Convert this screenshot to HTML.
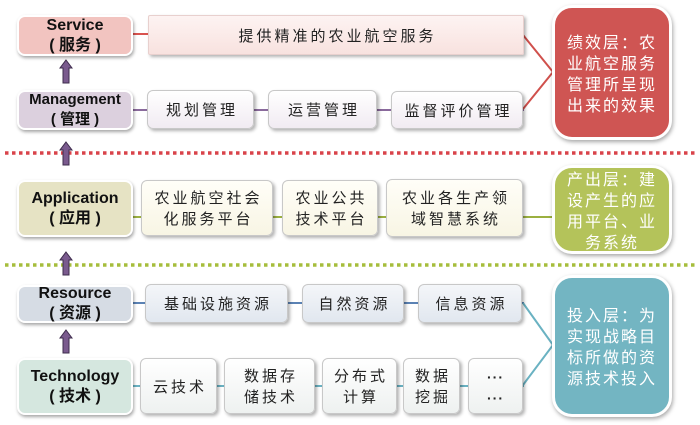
<!DOCTYPE html>
<html><head><meta charset="utf-8"><style>
html,body{margin:0;padding:0;background:#fff;}
body{width:700px;height:425px;position:relative;overflow:hidden;font-family:"Liberation Sans","Noto Sans CJK SC",sans-serif;}
.l{position:absolute;box-sizing:border-box;border:2px solid #fff;border-radius:8px;box-shadow:1px 2px 3px rgba(0,0,0,0.35);display:flex;flex-direction:column;align-items:center;justify-content:center;font-weight:bold;color:#111;font-size:16px;line-height:20px;text-align:center;}
.it{position:absolute;box-sizing:border-box;border:1px solid #c8c8c8;border-radius:6px;box-shadow:2px 2px 3px rgba(0,0,0,0.3);display:flex;align-items:center;justify-content:center;text-align:center;font-family:"Noto Sans CJK SC",sans-serif;font-size:15px;letter-spacing:3px;line-height:21px;color:#222;padding-left:3px;}
.r{position:absolute;box-sizing:border-box;border:3px solid #fff;border-radius:20px;box-shadow:1px 2px 4px rgba(0,0,0,0.35);display:flex;align-items:center;justify-content:center;color:#fff;font-family:"Noto Sans CJK SC",sans-serif;font-size:16px;letter-spacing:2px;line-height:21px;text-align:center;}
</style></head><body>
<svg width="700" height="425" style="position:absolute;left:0;top:0" xmlns="http://www.w3.org/2000/svg">
<line x1="133" y1="34" x2="148" y2="34" stroke="#d9534f" stroke-width="2"/>
<line x1="133" y1="110" x2="524" y2="110" stroke="#8a6a9c" stroke-width="2"/>
<line x1="133" y1="217" x2="524" y2="217" stroke="#9bb040" stroke-width="2"/>
<line x1="133" y1="303" x2="524" y2="303" stroke="#5b82b4" stroke-width="2"/>
<line x1="133" y1="386" x2="524" y2="386" stroke="#6ab2c2" stroke-width="2"/>
<polyline points="523,35 553,72 523,109" fill="none" stroke="#d0504c" stroke-width="2"/>
<line x1="523" y1="217" x2="553" y2="217" stroke="#9bb040" stroke-width="2"/>
<polyline points="523,303 553,345 523,385" fill="none" stroke="#6ab2c2" stroke-width="2"/>
<line x1="5" y1="153" x2="698" y2="153" stroke="#d9434a" stroke-width="3.5" stroke-dasharray="3.5 3.5"/>
<line x1="5" y1="265" x2="698" y2="265" stroke="#a6bd3c" stroke-width="3.5" stroke-dasharray="3.5 3.5"/>
<g fill="#7a5a8e" stroke="#3e2c4c" stroke-width="1">
<path d="M66,60 L72,68 L69,68 L69,83 L63,83 L63,68 L60,68 Z"/>
<path d="M66,142 L72,150 L69,150 L69,165 L63,165 L63,150 L60,150 Z"/>
<path d="M66,252 L72,260 L69,260 L69,275 L63,275 L63,260 L60,260 Z"/>
<path d="M66,330 L72,338 L69,338 L69,353 L63,353 L63,338 L60,338 Z"/>
</g>
</svg>

<div class="l" style="left:17px;top:15px;width:116px;height:41px;background:#f2c4c0;"><div>Service</div><div>( 服务 )</div></div>
<div class="l" style="left:17px;top:90px;width:116px;height:40px;background:#dcd0de;font-size:15px;"><div>Management</div><div>( 管理 )</div></div>
<div class="l" style="left:17px;top:180px;width:116px;height:57px;background:#e6e3c4;"><div>Application</div><div>( 应用 )</div></div>
<div class="l" style="left:17px;top:285px;width:116px;height:38px;background:#d6dce4;"><div>Resource</div><div>( 资源 )</div></div>
<div class="l" style="left:17px;top:358px;width:116px;height:57px;background:#d5e7df;"><div>Technology</div><div>( 技术 )</div></div>

<div class="it" style="left:148px;top:15px;width:376px;height:40px;border-radius:2px;background:linear-gradient(#fdf3f2,#f8e2df);border-color:#e8d0ce;">提供精准的农业航空服务</div>

<div class="it" style="left:147px;top:90px;width:107px;height:39px;background:linear-gradient(#ffffff,#f1ebf2);">规划管理</div>
<div class="it" style="left:268px;top:90px;width:109px;height:39px;background:linear-gradient(#ffffff,#f1ebf2);">运营管理</div>
<div class="it" style="left:391px;top:91px;width:132px;height:38px;background:linear-gradient(#ffffff,#f1ebf2);">监督评价管理</div>

<div class="it" style="left:141px;top:180px;width:132px;height:56px;background:linear-gradient(#fffef8,#f8f5e4);"><div>农业航空社会<br>化服务平台</div></div>
<div class="it" style="left:282px;top:180px;width:96px;height:56px;background:linear-gradient(#fffef8,#f8f5e4);"><div>农业公共<br>技术平台</div></div>
<div class="it" style="left:386px;top:179px;width:137px;height:58px;background:linear-gradient(#fffef8,#f8f5e4);"><div>农业各生产领<br>域智慧系统</div></div>

<div class="it" style="left:145px;top:284px;width:143px;height:39px;background:linear-gradient(#f4f6f9,#e1e7ef);">基础设施资源</div>
<div class="it" style="left:302px;top:284px;width:102px;height:39px;background:linear-gradient(#f4f6f9,#e1e7ef);">自然资源</div>
<div class="it" style="left:418px;top:284px;width:104px;height:39px;background:linear-gradient(#f4f6f9,#e1e7ef);">信息资源</div>

<div class="it" style="left:140px;top:358px;width:77px;height:56px;background:linear-gradient(#ffffff,#eef1f0);">云技术</div>
<div class="it" style="left:224px;top:358px;width:91px;height:56px;background:linear-gradient(#ffffff,#eef1f0);"><div>数据存<br>储技术</div></div>
<div class="it" style="left:322px;top:358px;width:75px;height:56px;background:linear-gradient(#ffffff,#eef1f0);"><div>分布式<br>计算</div></div>
<div class="it" style="left:403px;top:358px;width:57px;height:56px;background:linear-gradient(#ffffff,#eef1f0);"><div>数据<br>挖掘</div></div>
<div class="it" style="left:468px;top:358px;width:55px;height:56px;background:linear-gradient(#ffffff,#eef1f0);letter-spacing:1px;padding-left:0;font-family:'Liberation Sans',sans-serif;font-weight:bold;font-size:14px;line-height:21px;"><div style="margin-top:4px">···<br>···</div></div>

<div class="r" style="left:552px;top:5px;width:120px;height:135px;background:#cf5553;"><div>绩效层：农<br>业航空服务<br>管理所呈现<br>出来的效果</div></div>
<div class="r" style="left:552px;top:165px;width:120px;height:89px;background:#b4c35a;"><div>产出层：建<br>设产生的应<br>用平台、业<br>务系统</div></div>
<div class="r" style="left:552px;top:275px;width:120px;height:142px;background:#73b5c2;"><div>投入层：为<br>实现战略目<br>标所做的资<br>源技术投入</div></div>
</body></html>
